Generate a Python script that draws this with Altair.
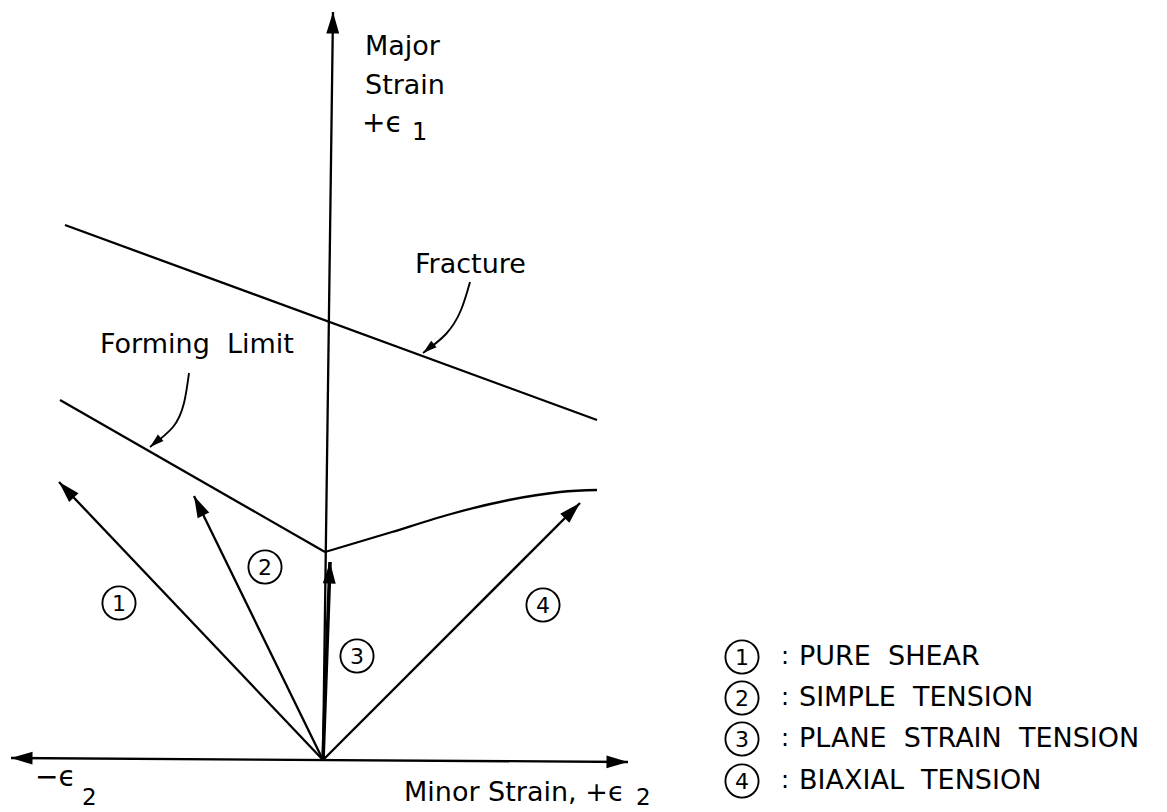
import math
import altair as alt
import pandas as pd

# Strain space: origin where the minor and major strain axes cross
X_DOMAIN = [-0.323, 0.844]
Y_DOMAIN = [-0.052, 0.760]
FONT = "DejaVu Sans"
GAP = "\u00a0\u00a0"  # wide word gap that survives SVG whitespace collapsing

# Axes
minor_axis_x = [-0.312, 0.305]
minor_axis_y = [0.002, -0.002]
major_axis_x = [0.000, 0.010]
major_axis_y = [0.000, 0.748]

# Fracture line
fracture_x = [-0.258, 0.274]
fracture_y = [0.535, 0.340]

# Forming limit curve: straight left branch, curved right branch
flc_left_x = [-0.263, 0.002]
flc_left_y = [0.360, 0.208]
flc_right_x = [0.002, 0.069, 0.128, 0.186, 0.237, 0.274]
flc_right_y = [0.208, 0.228, 0.246, 0.260, 0.268, 0.270]

# Strain paths from the origin
path_ids = ["1", "2", "3", "4"]
path_end_x = [-0.264, -0.129, 0.007, 0.257]
path_end_y = [0.278, 0.264, 0.198, 0.257]
path_label_x = [-0.204, -0.058, 0.034, 0.220]
path_label_y = [0.157, 0.193, 0.104, 0.155]

# Leader curves pointing at the two limit lines
fracture_leader_x = [0.147, 0.138, 0.123, 0.100]
fracture_leader_y = [0.478, 0.450, 0.426, 0.407]
flc_leader_x = [-0.134, -0.139, -0.150, -0.173]
flc_leader_y = [0.387, 0.357, 0.333, 0.313]

# Legend
legend_ids = ["1", "2", "3", "4"]
legend_names = ["PURE" + GAP + "SHEAR", "SIMPLE" + GAP + "TENSION",
                "PLANE" + GAP + "STRAIN" + GAP + "TENSION", "BIAXIAL" + GAP + "TENSION"]
legend_y = [0.103, 0.062, 0.021, -0.021]
legend_circle_x = 0.419
legend_colon_x = 0.458
legend_text_x = 0.476

LINE_W = 2.3

# ---- line segments ----
rows = []
def add_line(name, xs, ys, w=LINE_W):
    for i, (x, y) in enumerate(zip(xs, ys)):
        rows.append({"id": name, "ord": i, "x": x, "y": y, "w": w})

add_line("minor", minor_axis_x, minor_axis_y)
add_line("major", major_axis_x, major_axis_y)
add_line("fracture", fracture_x, fracture_y)
add_line("flc_left", flc_left_x, flc_left_y)
for pid, ex, ey in zip(path_ids, path_end_x, path_end_y):
    add_line("path" + pid, [0.0, ex], [0.0, ey], 3.6 if pid == "3" else LINE_W)
straight = pd.DataFrame(rows)

rows = []
add_line("flc_right", flc_right_x, flc_right_y)
add_line("lead_fr", fracture_leader_x, fracture_leader_y, 1.9)
add_line("lead_fl", flc_leader_x, flc_leader_y, 1.9)
curved = pd.DataFrame(rows)

# ---- arrow heads ----
def heading(x0, y0, x1, y1):
    return math.degrees(math.atan2(x1 - x0, y1 - y0)) % 360

heads = []
heads.append({"x": major_axis_x[1], "y": major_axis_y[1],
              "ang": heading(major_axis_x[0], major_axis_y[0], major_axis_x[1], major_axis_y[1]), "s": 1850})
heads.append({"x": minor_axis_x[0], "y": minor_axis_y[0],
              "ang": heading(0, 0, minor_axis_x[0], minor_axis_y[0]), "s": 1850})
heads.append({"x": minor_axis_x[1], "y": minor_axis_y[1],
              "ang": heading(0, 0, minor_axis_x[1], minor_axis_y[1]), "s": 1850})
for ex, ey in zip(path_end_x, path_end_y):
    heads.append({"x": ex, "y": ey, "ang": heading(0, 0, ex, ey), "s": 1850})
for lx, ly in [(fracture_leader_x, fracture_leader_y), (flc_leader_x, flc_leader_y)]:
    heads.append({"x": lx[-1], "y": ly[-1], "ang": heading(lx[-2], ly[-2], lx[-1], ly[-1]), "s": 800})
heads = pd.DataFrame(heads)

# ---- circled numbers ----
circ = pd.DataFrame({"x": path_label_x + [legend_circle_x] * 4,
                     "y": path_label_y + legend_y,
                     "t": path_ids + legend_ids})

# ---- text ----
texts = pd.DataFrame([
    {"x": 0.042, "y": 0.713, "t": "Major", "s": 27},
    {"x": 0.042, "y": 0.674, "t": "Strain", "s": 27},
    {"x": 0.039, "y": 0.636, "t": "+ϵ", "s": 28},
    {"x": 0.089, "y": 0.627, "t": "1", "s": 24},
    {"x": 0.092, "y": 0.495, "t": "Fracture", "s": 27},
    {"x": -0.223, "y": 0.415, "t": "Forming" + GAP + "Limit", "s": 27},
    {"x": -0.288, "y": -0.018, "t": "−ϵ", "s": 28},
    {"x": -0.241, "y": -0.038, "t": "2", "s": 23},
    {"x": 0.081, "y": -0.033, "t": "Minor Strain, +ϵ", "s": 27},
    {"x": 0.313, "y": -0.038, "t": "2", "s": 23},
] + [{"x": legend_colon_x, "y": y, "t": ":", "s": 24} for y in legend_y]
  + [{"x": legend_text_x, "y": y, "t": n, "s": 27} for n, y in zip(legend_names, legend_y)])

xs = alt.Scale(domain=X_DOMAIN, nice=False, zero=False)
ys = alt.Scale(domain=Y_DOMAIN, nice=False, zero=False)
X = lambda: alt.X("x:Q", scale=xs, axis=None)
Y = lambda: alt.Y("y:Q", scale=ys, axis=None)

lines = alt.Chart(straight).mark_line(color="black", strokeCap="butt").encode(
    x=X(), y=Y(), detail="id:N", order="ord:Q",
    strokeWidth=alt.StrokeWidth("w:Q", scale=None))

curves = alt.Chart(curved).mark_line(color="black", interpolate="natural").encode(
    x=X(), y=Y(), detail="id:N", order="ord:Q",
    strokeWidth=alt.StrokeWidth("w:Q", scale=None))

arrowheads = alt.Chart(heads).mark_point(
    shape="M0,0L-0.3,1L0.3,1Z", filled=True, color="black", opacity=1).encode(
    x=X(), y=Y(), angle=alt.Angle("ang:Q", scale=None), size=alt.Size("s:Q", scale=None))

rings = alt.Chart(circ).mark_point(
    shape="circle", filled=False, color="black", size=1100, strokeWidth=1.9, opacity=1).encode(
    x=X(), y=Y())

ring_nums = alt.Chart(circ).mark_text(font=FONT, fontSize=22, color="black", baseline="middle", dy=1).encode(
    x=X(), y=Y(), text="t:N")

labels = alt.Chart(texts).mark_text(font=FONT, color="black", align="left", baseline="middle").encode(
    x=X(), y=Y(), text="t:N", size=alt.Size("s:Q", scale=None))

chart = alt.layer(lines, curves, arrowheads, rings, ring_nums, labels).properties(
    width=1167, height=812, padding=0,
    autosize=alt.AutoSizeParams(type="none"),
    background="white",
).configure_view(stroke=None)

chart.save("out.html", embed_options={"renderer": "svg", "actions": False})
